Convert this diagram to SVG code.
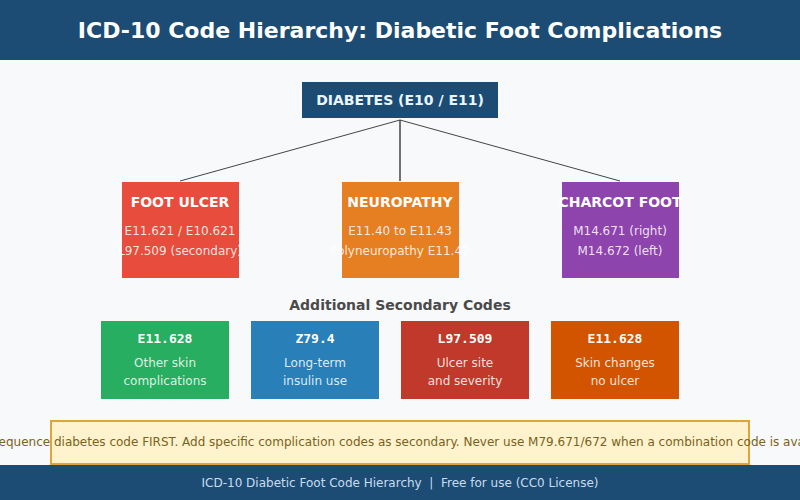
<svg xmlns="http://www.w3.org/2000/svg" width="800" height="500" viewBox="0 0 800 500">
<style>
text{font-family:"DejaVu Sans",sans-serif;text-anchor:middle}
.h{font-weight:bold;font-size:14px;fill:#fff}
.c{font-size:12px;fill:#fff;fill-opacity:0.85}
.m{font-family:"DejaVu Sans Mono",monospace;font-weight:bold;font-size:13px;fill:#fff}
.d{font-size:12px;fill:#fff;fill-opacity:0.85}
.ln{stroke:#444;fill:none}
</style>
<rect width="800" height="500" fill="#f8f9fa"/>
<g id="header">
<rect x="0" y="0" width="800" height="60" fill="#1c4c74"/>
<text x="400" y="38" style="font-weight:bold;font-size:22px;fill:#fff">ICD-10 Code Hierarchy: Diabetic Foot Complications</text>
</g>
<g id="connectors">
<line class="ln" x1="400" y1="120" x2="180" y2="181" stroke-width="1"/>
<line class="ln" x1="400" y1="120" x2="400" y2="181" stroke-width="1.5"/>
<line class="ln" x1="400" y1="120" x2="620" y2="181" stroke-width="1"/>
</g>
<g id="diabetes">
<rect x="302" y="82" width="196" height="36" fill="#1c4c74"/>
<text x="400" y="105" class="h" style="fill:#eaf6ff">DIABETES (E10 / E11)</text>
</g>
<g id="foot-ulcer">
<rect x="122" y="182" width="117" height="96" fill="#e74c3c"/>
<text x="180" y="207" class="h">FOOT ULCER</text>
<text x="180" y="235" class="c">E11.621 / E10.621</text>
<text x="180" y="255" class="c">L97.509 (secondary)</text>
</g>
<g id="neuropathy">
<rect x="342" y="182" width="117" height="96" fill="#e67e22"/>
<text x="400" y="207" class="h">NEUROPATHY</text>
<text x="400" y="235" class="c">E11.40 to E11.43</text>
<text x="400" y="255" class="c">Polyneuropathy E11.42</text>
</g>
<g id="charcot">
<rect x="562" y="182" width="117" height="96" fill="#8e44ad"/>
<text x="620" y="207" class="h">CHARCOT FOOT</text>
<text x="620" y="235" class="c">M14.671 (right)</text>
<text x="620" y="255" class="c">M14.672 (left)</text>
</g>
<text x="400" y="310" style="font-weight:bold;font-size:14px;fill:#4a4a4a">Additional Secondary Codes</text>
<g id="e11-628-a">
<rect x="101" y="321" width="128" height="78" fill="#27ae60"/>
<text x="165" y="343" class="m">E11.628</text>
<text x="165" y="367" class="d">Other skin</text>
<text x="165" y="385" class="d">complications</text>
</g>
<g id="z79-4">
<rect x="251" y="321" width="128" height="78" fill="#2980b9"/>
<text x="315" y="343" class="m">Z79.4</text>
<text x="315" y="367" class="d">Long-term</text>
<text x="315" y="385" class="d">insulin use</text>
</g>
<g id="l97-509">
<rect x="401" y="321" width="128" height="78" fill="#c0392b"/>
<text x="465" y="343" class="m">L97.509</text>
<text x="465" y="367" class="d">Ulcer site</text>
<text x="465" y="385" class="d">and severity</text>
</g>
<g id="e11-628-b">
<rect x="551" y="321" width="128" height="78" fill="#d35400"/>
<text x="615" y="343" class="m">E11.628</text>
<text x="615" y="367" class="d">Skin changes</text>
<text x="615" y="385" class="d">no ulcer</text>
</g>
<g id="note">
<rect x="51" y="421" width="698" height="43" fill="#fff3cd" stroke="#e0a43a" stroke-width="2"/>
<text x="416" y="446" style="font-size:12px;fill:#7a6220">Sequence diabetes code FIRST. Add specific complication codes as secondary. Never use M79.671/672 when a combination code is available.</text>
</g>
<g id="footer">
<rect x="0" y="465" width="800" height="35" fill="#1c4c74"/>
<text x="400" y="487" xml:space="preserve" style="font-size:12px;fill:#c8dcf0">ICD-10 Diabetic Foot Code Hierarchy  |  Free for use (CC0 License)</text>
</g>
</svg>
